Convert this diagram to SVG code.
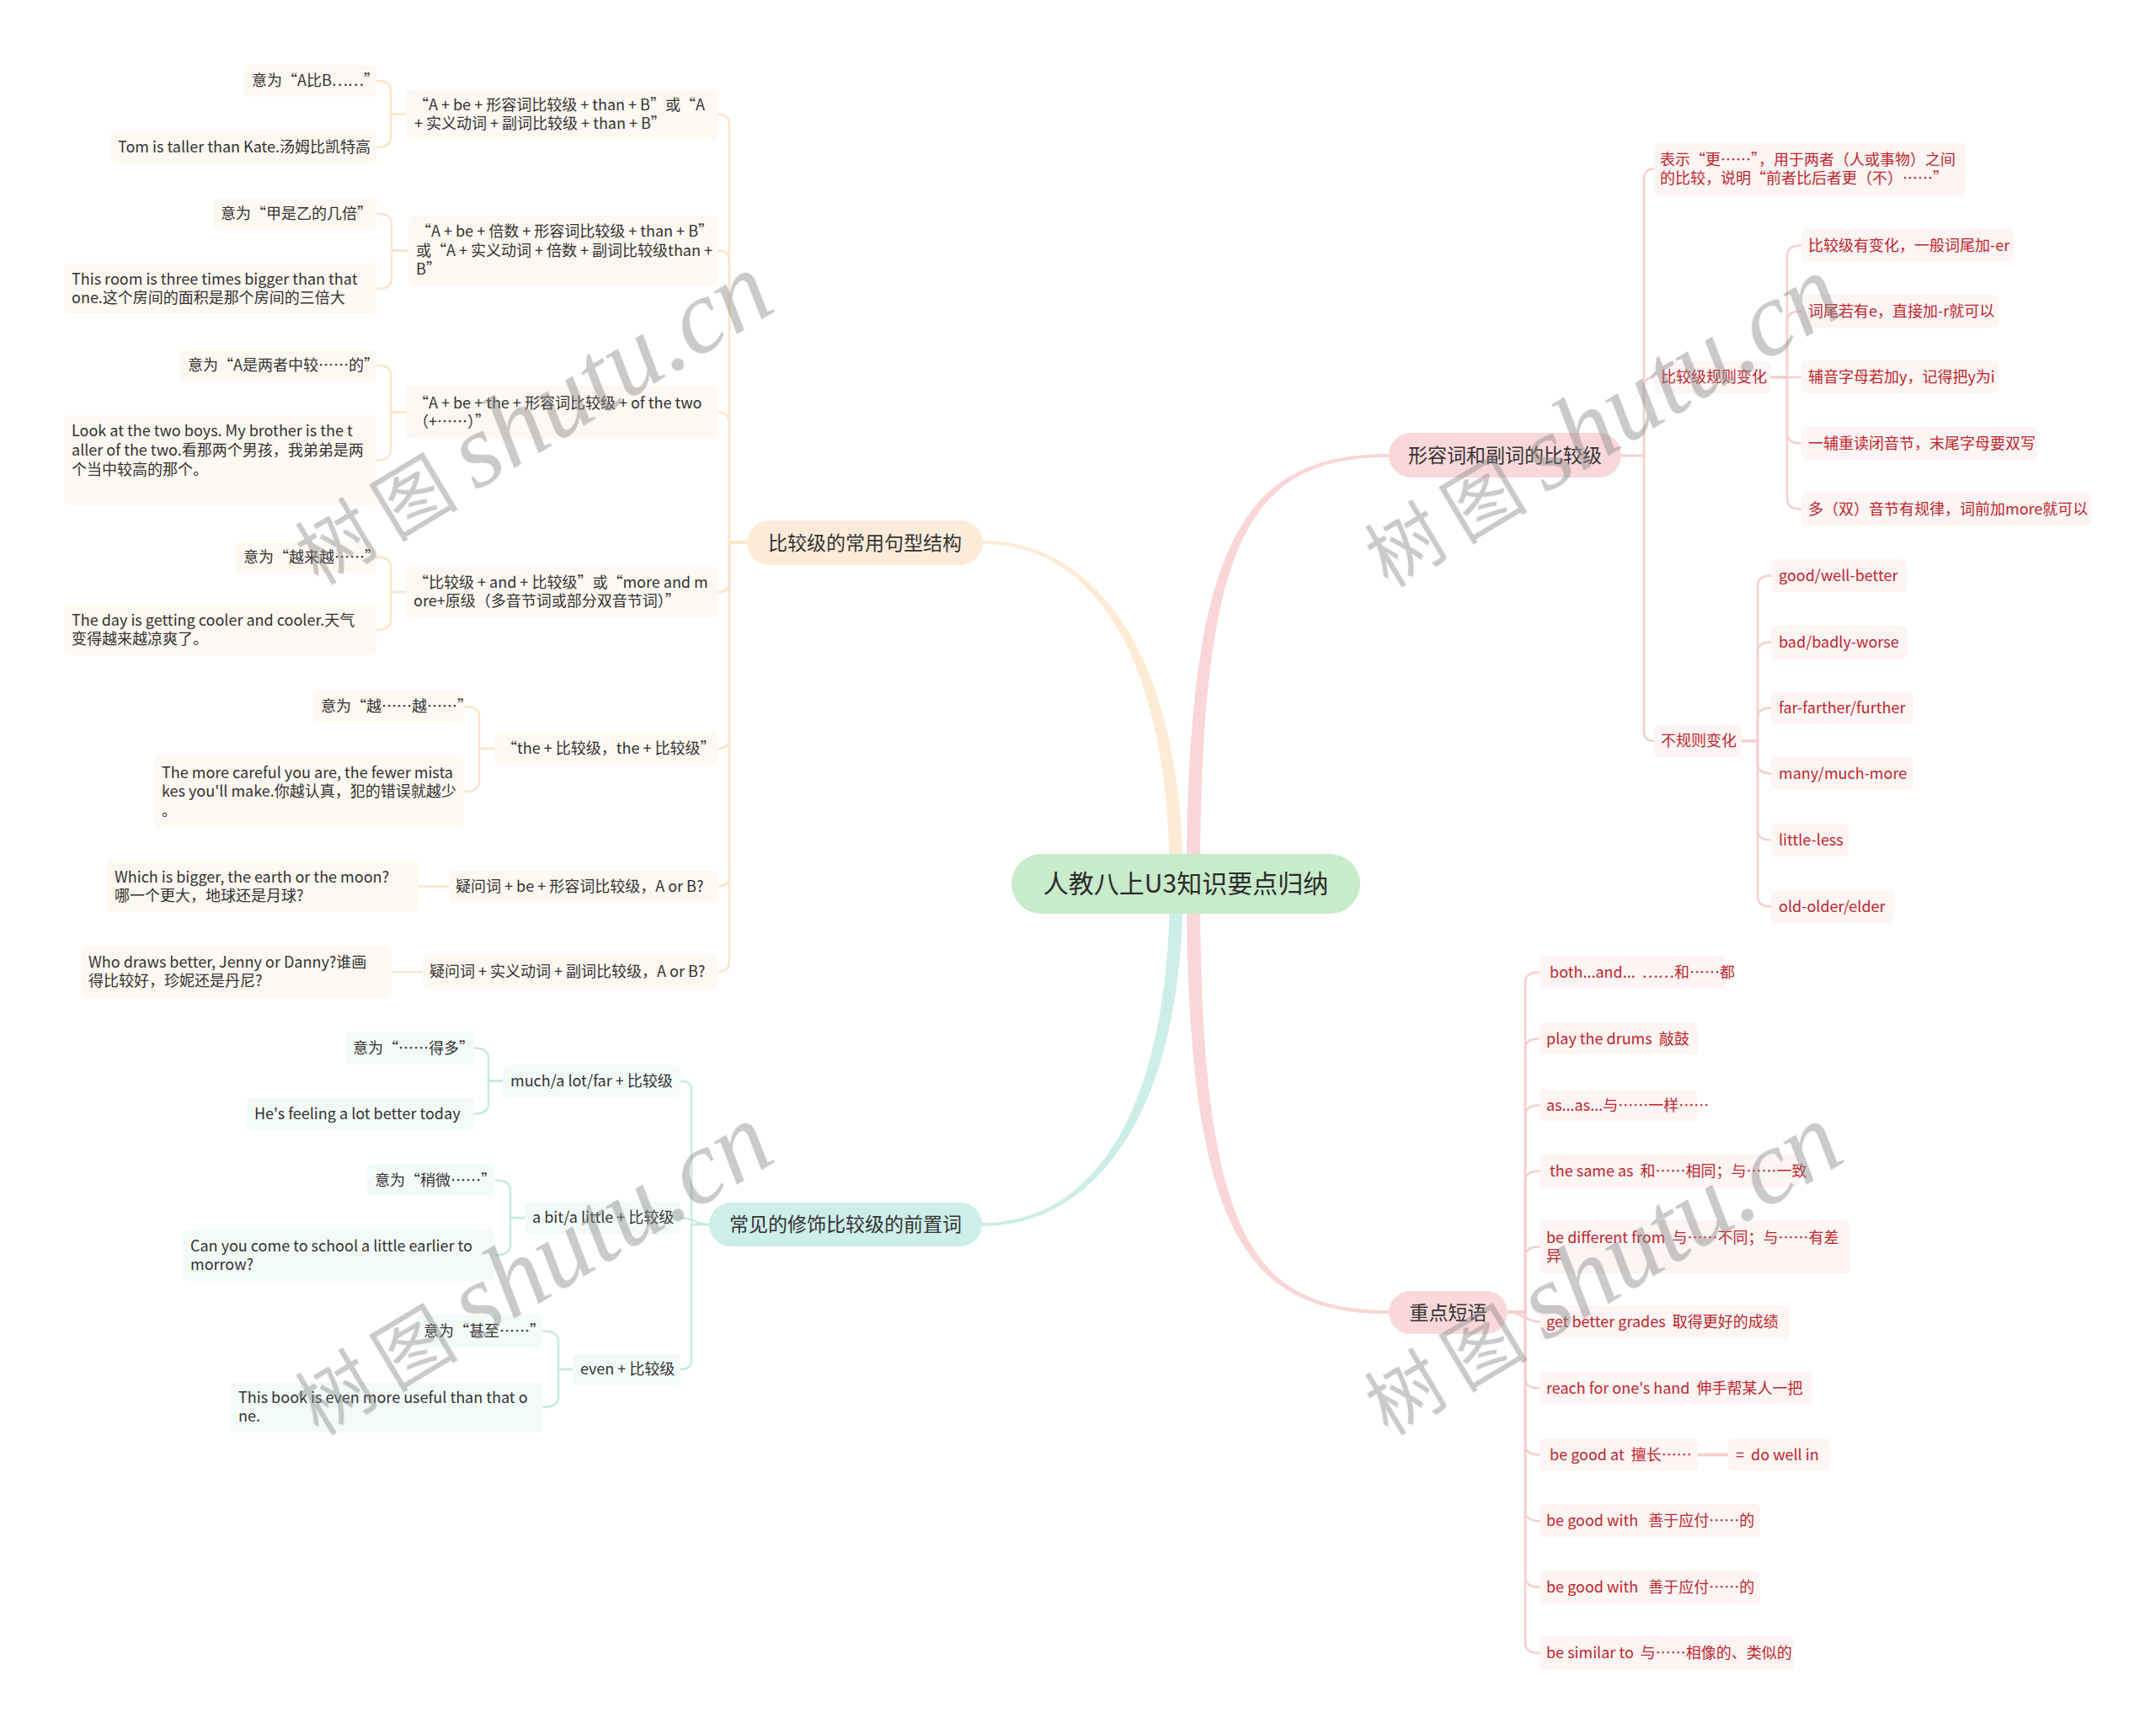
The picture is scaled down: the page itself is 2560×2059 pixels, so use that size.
<svg xmlns="http://www.w3.org/2000/svg" width="2560" height="2059" viewBox="0 0 2560 2059">
<style>
.t{font-family:"Noto Sans CJK SC","Liberation Sans",sans-serif;font-size:18px;fill:#333}
.red{fill:#c1272d}
.h{font-size:23px;text-anchor:middle}
.rt{font-size:30px;text-anchor:middle;fill:#2b2b2b}
.n1{fill:#fdf8f1}
.n2{fill:#f3fbf9}
.n3{fill:#fdf4f4}
.c1{fill:none;stroke:#fce4cc;stroke-width:2.5}
.c2{fill:none;stroke:#c6eae3;stroke-width:2.5}
.c3{fill:none;stroke:#f6cfcf;stroke-width:2.5}
.wm1{font-family:"Noto Sans CJK SC",sans-serif;font-size:90px;letter-spacing:16px}
.wm2{font-family:"Liberation Serif",serif;font-style:italic;font-size:125px}
</style>
<rect x="0" y="0" width="2560" height="2059" fill="#ffffff"/>
<g id="connectors">
<path d="M1167,642 C1302,642 1405,780 1405,1050 L1389,1050 C1389,780 1298,646 1167,646 Z" fill="#fdebd6"/>
<path d="M1166,1456 C1302,1456 1405,1320 1405,1050 L1389,1050 C1389,1320 1298,1452 1166,1452 Z" fill="#cdeee8"/>
<path d="M1649,539 C1478,539 1409,640 1409,1050 L1425,1050 C1425,640 1482,543 1649,543 Z" fill="#f9d6d7"/>
<path d="M1649,1556 C1482,1556 1425,1460 1425,1050 L1409,1050 C1409,1460 1478,1560 1649,1560 Z" fill="#f9d6d7"/>
<g class="c1">
<path d="M887,644H866V148Q866,135.5 852,135.5"/>
<path d="M887,644H866V310Q866,297.5 852,297.5"/>
<path d="M887,644H866V502Q866,489.5 852,489.5"/>
<path d="M887,644H866V691Q866,703 852,703"/>
<path d="M887,644H866V877Q866,889 852,889"/>
<path d="M887,644H866V1040.5Q866,1052.5 852,1052.5"/>
<path d="M887,644H866V1142Q866,1154 852,1154"/>
<path d="M482,135.5H464V108Q464,96 447,96"/>
<path d="M482,135.5H464V163Q464,175 447,175"/>
<path d="M485,297.5H465V265.5Q465,253.5 447,253.5"/>
<path d="M485,297.5H465V331Q465,343 447,343"/>
<path d="M482,489.5H464V445.5Q464,433.5 447,433.5"/>
<path d="M482,489.5H464V534.5Q464,546.5 447,546.5"/>
<path d="M482,703H464V673.5Q464,661.5 447,661.5"/>
<path d="M482,703H464V736Q464,748 447,748"/>
<path d="M587,889H569V851Q569,839 551,839"/>
<path d="M587,889H569V928Q569,940 551,940"/>
<path d="M533,1052.5H497"/>
<path d="M502,1154H465"/>
</g>
<g class="c2">
<path d="M842,1454H821V1295.5Q821,1283.5 808,1283.5"/>
<path d="M842,1454C824,1454 826,1446 808,1446"/>
<path d="M842,1454H821V1614Q821,1626 808,1626"/>
<path d="M597,1283.5H580V1256.5Q580,1244.5 563,1244.5"/>
<path d="M597,1283.5H580V1310.5Q580,1322.5 563,1322.5"/>
<path d="M623,1446H606V1413.5Q606,1401.5 588,1401.5"/>
<path d="M623,1446H606V1478.5Q606,1490.5 588,1490.5"/>
<path d="M680,1626H663V1592.5Q663,1580.5 644,1580.5"/>
<path d="M680,1626H663V1659Q663,1671 644,1671"/>
</g>
<g class="c3">
<path d="M1925,541H1952V212.5Q1952,200.5 1964,200.5"/>
<path d="M1925,541H1952V460Q1952,448 1964,448"/>
<path d="M1925,541H1952V868Q1952,880 1964,880"/>
<path d="M2102,448H2122V303.5Q2122,291.5 2139,291.5"/>
<path d="M2102,448H2122V381.5Q2122,369.5 2139,369.5"/>
<path d="M2102,448H2139"/>
<path d="M2102,448H2122V514.5Q2122,526.5 2139,526.5"/>
<path d="M2102,448H2122V592.5Q2122,604.5 2139,604.5"/>
<path d="M2068,880H2087V695.5Q2087,683.5 2103,683.5"/>
<path d="M2068,880H2087V774.5Q2087,762.5 2103,762.5"/>
<path d="M2068,880H2087V852.5Q2087,840.5 2103,840.5"/>
<path d="M2068,880H2087V906.5Q2087,918.5 2103,918.5"/>
<path d="M2068,880H2087V985.5Q2087,997.5 2103,997.5"/>
<path d="M2068,880H2087V1064.5Q2087,1076.5 2103,1076.5"/>
<path d="M1790,1558H1811V1166.5Q1811,1154.5 1828,1154.5"/>
<path d="M1790,1558H1811V1245.5Q1811,1233.5 1828,1233.5"/>
<path d="M1790,1558H1811V1324.5Q1811,1312.5 1828,1312.5"/>
<path d="M1790,1558H1811V1402.5Q1811,1390.5 1828,1390.5"/>
<path d="M1790,1558H1811V1492.5Q1811,1480.5 1828,1480.5"/>
<path d="M1790,1558C1808,1558 1811,1569.5 1828,1569.5"/>
<path d="M1790,1558H1811V1636.5Q1811,1648.5 1828,1648.5"/>
<path d="M1790,1558H1811V1715.5Q1811,1727.5 1828,1727.5"/>
<path d="M1790,1558H1811V1794Q1811,1806 1828,1806"/>
<path d="M1790,1558H1811V1872.5Q1811,1884.5 1828,1884.5"/>
<path d="M1790,1558H1811V1951Q1811,1963 1828,1963"/>
<path d="M2016,1727.5H2052" stroke-width="4"/>
</g>
</g>
<g id="root"><rect x="1201" y="1014" width="414" height="71" rx="35.5" fill="#c8ebca"/><text class="t rt" x="1408" y="1060">人教八上U3知识要点归纳</text></g>
<g id="b1"><rect x="887" y="618" width="280" height="53" rx="26.5" fill="#fdebd9"/><text class="t h" x="1027" y="652.5">比较级的常用句型结构</text></g>
<g id="b2"><rect x="842" y="1428" width="324" height="52" rx="26" fill="#cdeee9"/><text class="t h" x="1004" y="1462">常见的修饰比较级的前置词</text></g>
<g id="b3"><rect x="1649" y="514" width="276" height="53" rx="26.5" fill="#fad8d9"/><text class="t h" x="1787" y="548.5">形容词和副词的比较级</text></g>
<g id="b4"><rect x="1649" y="1533" width="141" height="51" rx="25.5" fill="#fad8d9"/><text class="t h" x="1719.5" y="1566.5">重点短语</text></g>

<g id="a1"><rect class="n1" x="482" y="106" width="370" height="59" rx="6"/><text class="t"><tspan x="491" y="130.5">“A + be + 形容词比较级 + than + B”或“A</tspan><tspan x="492" y="152.5">+ 实义动词 + 副词比较级 + than + B”</tspan></text></g>
<g id="a2"><rect class="n1" x="485" y="256" width="367" height="83" rx="6"/><text class="t"><tspan x="494" y="281">“A + be + 倍数 + 形容词比较级 + than + B”</tspan><tspan x="494" y="303.5">或“A + 实义动词 + 倍数 + 副词比较级than +</tspan><tspan x="494" y="326">B”</tspan></text></g>
<g id="a3"><rect class="n1" x="482" y="458" width="370" height="63" rx="6"/><text class="t"><tspan x="491" y="484.5">“A + be + the + 形容词比较级 + of the two</tspan><tspan x="491" y="506.5">（+……）”</tspan></text></g>
<g id="a4"><rect class="n1" x="482" y="673" width="370" height="60" rx="6"/><text class="t"><tspan x="491" y="698">“比较级 + and + 比较级”或“more and m</tspan><tspan x="491" y="720">ore+原级（多音节词或部分双音节词）”</tspan></text></g>
<g id="a5"><rect class="n1" x="587" y="870" width="265" height="38" rx="6"/><text class="t" x="596" y="895">“the + 比较级，the + 比较级”</text></g>
<g id="a6"><rect class="n1" x="533" y="1033" width="319" height="39" rx="6"/><text class="t" x="541" y="1058.5">疑问词 + be + 形容词比较级，A or B?</text></g>
<g id="a7"><rect class="n1" x="502" y="1135" width="350" height="38" rx="6"/><text class="t" x="510" y="1160">疑问词 + 实义动词 + 副词比较级，A or B?</text></g>

<g id="a1a"><rect class="n1" x="290" y="77" width="157" height="38" rx="6"/><text class="t" x="299" y="102">意为“A比B……”</text></g>
<g id="a1b"><rect class="n1" x="131" y="156" width="316" height="38" rx="6"/><text class="t" x="140" y="181">Tom is taller than Kate.汤姆比凯特高</text></g>
<g id="a2a"><rect class="n1" x="253" y="235" width="194" height="37" rx="6"/><text class="t" x="262" y="259.5">意为“甲是乙的几倍”</text></g>
<g id="a2b"><rect class="n1" x="76" y="313" width="371" height="60" rx="6"/><text class="t"><tspan x="85" y="338">This room is three times bigger than that</tspan><tspan x="85" y="360">one.这个房间的面积是那个房间的三倍大</tspan></text></g>
<g id="a3a"><rect class="n1" x="214" y="415" width="233" height="37" rx="6"/><text class="t" x="223" y="439.5">意为“A是两者中较……的”</text></g>
<g id="a3b"><rect class="n1" x="76" y="493" width="371" height="107" rx="6"/><text class="t"><tspan x="85" y="518">Look at the two boys. My brother is the t</tspan><tspan x="85" y="541">aller of the two.看那两个男孩，我弟弟是两</tspan><tspan x="85" y="564">个当中较高的那个。</tspan></text></g>
<g id="a4a"><rect class="n1" x="280" y="643" width="167" height="37" rx="6"/><text class="t" x="289" y="667.5">意为“越来越……”</text></g>
<g id="a4b"><rect class="n1" x="76" y="718" width="371" height="60" rx="6"/><text class="t"><tspan x="85" y="743">The day is getting cooler and cooler.天气</tspan><tspan x="85" y="765">变得越来越凉爽了。</tspan></text></g>
<g id="a5a"><rect class="n1" x="372" y="820" width="179" height="38" rx="6"/><text class="t" x="381" y="845">意为“越……越……”</text></g>
<g id="a5b"><rect class="n1" x="183" y="898" width="368" height="84" rx="6"/><text class="t"><tspan x="192" y="923.5">The more careful you are, the fewer mista</tspan><tspan x="192" y="946">kes you'll make.你越认真，犯的错误就越少</tspan><tspan x="192" y="968.5">。</tspan></text></g>
<g id="a6a"><rect class="n1" x="127" y="1022" width="370" height="61" rx="6"/><text class="t"><tspan x="136" y="1047.5">Which is bigger, the earth or the moon?</tspan><tspan x="136" y="1069.5">哪一个更大，地球还是月球?</tspan></text></g>
<g id="a7a"><rect class="n1" x="96" y="1123" width="369" height="62" rx="6"/><text class="t"><tspan x="105" y="1149">Who draws better, Jenny or Danny?谁画</tspan><tspan x="105" y="1171">得比较好，珍妮还是丹尼?</tspan></text></g>

<g id="bb1"><rect class="n2" x="597" y="1264" width="211" height="39" rx="6"/><text class="t" x="606" y="1289.5">much/a lot/far + 比较级</text></g>
<g id="bb2"><rect class="n2" x="623" y="1426" width="185" height="40" rx="6"/><text class="t" x="632" y="1452">a bit/a little + 比较级</text></g>
<g id="bb3"><rect class="n2" x="680" y="1607" width="128" height="38" rx="6"/><text class="t" x="689" y="1632">even + 比较级</text></g>
<g id="bb1a"><rect class="n2" x="410" y="1225" width="153" height="39" rx="6"/><text class="t" x="419" y="1250.5">意为“……得多”</text></g>
<g id="bb1b"><rect class="n2" x="293" y="1303" width="270" height="39" rx="6"/><text class="t" x="302" y="1328.5">He's feeling a lot better today</text></g>
<g id="bb2a"><rect class="n2" x="436" y="1382" width="152" height="39" rx="6"/><text class="t" x="445" y="1407.5">意为“稍微……”</text></g>
<g id="bb2b"><rect class="n2" x="217" y="1460" width="371" height="61" rx="6"/><text class="t"><tspan x="226" y="1485.5">Can you come to school a little earlier to</tspan><tspan x="226" y="1507.5">morrow?</tspan></text></g>
<g id="bb3a"><rect class="n2" x="494" y="1561" width="150" height="39" rx="6"/><text class="t" x="503" y="1586.5">意为“甚至……”</text></g>
<g id="bb3b"><rect class="n2" x="274" y="1641" width="370" height="60" rx="6"/><text class="t"><tspan x="283" y="1666">This book is even more useful than that o</tspan><tspan x="283" y="1688">ne.</tspan></text></g>

<g id="c1"><rect class="n3" x="1964" y="169" width="370" height="63" rx="6"/><text class="t red"><tspan x="1971" y="195.5">表示“更……”，用于两者（人或事物）之间</tspan><tspan x="1971" y="217.5">的比较，说明“前者比后者更（不）……”</tspan></text></g>
<g id="c2"><rect class="n3" x="1964" y="429" width="138" height="38" rx="6"/><text class="t red" x="1972" y="454">比较级规则变化</text></g>
<g id="c3"><rect class="n3" x="1964" y="861" width="104" height="38" rx="6"/><text class="t red" x="1972" y="886">不规则变化</text></g>
<g id="c2a"><rect class="n3" x="2139" y="272" width="252" height="39" rx="6"/><text class="t red" x="2147" y="297.5">比较级有变化，一般词尾加-er</text></g>
<g id="c2b"><rect class="n3" x="2139" y="350" width="234" height="39" rx="6"/><text class="t red" x="2147" y="375.5">词尾若有e，直接加-r就可以</text></g>
<g id="c2c"><rect class="n3" x="2139" y="428" width="234" height="39" rx="6"/><text class="t red" x="2147" y="453.5">辅音字母若加y，记得把y为i</text></g>
<g id="c2d"><rect class="n3" x="2139" y="507" width="280" height="39" rx="6"/><text class="t red" x="2147" y="532.5">一辅重读闭音节，末尾字母要双写</text></g>
<g id="c2e"><rect class="n3" x="2139" y="585" width="344" height="39" rx="6"/><text class="t red" x="2147" y="610.5">多（双）音节有规律，词前加more就可以</text></g>
<g id="c3a"><rect class="n3" x="2103" y="664" width="161" height="39" rx="6"/><text class="t red" x="2112" y="689.5">good/well-better</text></g>
<g id="c3b"><rect class="n3" x="2103" y="743" width="161" height="39" rx="6"/><text class="t red" x="2112" y="768.5">bad/badly-worse</text></g>
<g id="c3c"><rect class="n3" x="2103" y="821" width="169" height="39" rx="6"/><text class="t red" x="2112" y="846.5">far-farther/further</text></g>
<g id="c3d"><rect class="n3" x="2103" y="899" width="169" height="39" rx="6"/><text class="t red" x="2112" y="924.5">many/much-more</text></g>
<g id="c3e"><rect class="n3" x="2103" y="978" width="92" height="39" rx="6"/><text class="t red" x="2112" y="1003.5">little-less</text></g>
<g id="c3f"><rect class="n3" x="2103" y="1057" width="146" height="39" rx="6"/><text class="t red" x="2112" y="1082.5">old-older/elder</text></g>

<g id="d1"><rect class="n3" x="1828" y="1135" width="222" height="39" rx="6"/><text class="t red" xml:space="preserve" x="1836" y="1160.5"> both...and...  ……和……都</text></g>
<g id="d2"><rect class="n3" x="1828" y="1214" width="188" height="39" rx="6"/><text class="t red" xml:space="preserve" x="1836" y="1239.5">play the drums  敲鼓</text></g>
<g id="d3"><rect class="n3" x="1828" y="1293" width="187" height="39" rx="6"/><text class="t red" x="1836" y="1318.5">as...as...与……一样……</text></g>
<g id="d4"><rect class="n3" x="1828" y="1371" width="308" height="39" rx="6"/><text class="t red" xml:space="preserve" x="1836" y="1396.5"> the same as  和……相同；与……一致</text></g>
<g id="d5"><rect class="n3" x="1828" y="1449" width="369" height="63" rx="6"/><text class="t red" xml:space="preserve"><tspan x="1836" y="1475.5">be different from  与……不同；与……有差</tspan><tspan x="1836" y="1497.5">异</tspan></text></g>
<g id="d6"><rect class="n3" x="1828" y="1550" width="297" height="39" rx="6"/><text class="t red" xml:space="preserve" x="1836" y="1575.5">get better grades  取得更好的成绩</text></g>
<g id="d7"><rect class="n3" x="1828" y="1629" width="323" height="39" rx="6"/><text class="t red" xml:space="preserve" x="1836" y="1654.5">reach for one's hand  伸手帮某人一把</text></g>
<g id="d8"><rect class="n3" x="1828" y="1708" width="188" height="39" rx="6"/><text class="t red" xml:space="preserve" x="1836" y="1733.5"> be good at  擅长……</text></g>
<g id="d8a"><rect class="n3" x="2052" y="1708" width="121" height="39" rx="6"/><text class="t red" xml:space="preserve" x="2061" y="1733.5">=  do well in</text></g>
<g id="d9"><rect class="n3" x="1828" y="1786" width="262" height="40" rx="6"/><text class="t red" xml:space="preserve" x="1836" y="1812">be good with   善于应付……的</text></g>
<g id="d10"><rect class="n3" x="1828" y="1865" width="262" height="39" rx="6"/><text class="t red" xml:space="preserve" x="1836" y="1890.5">be good with   善于应付……的</text></g>
<g id="d11"><rect class="n3" x="1828" y="1943" width="302" height="40" rx="6"/><text class="t red" xml:space="preserve" x="1836" y="1969">be similar to  与……相像的、类似的</text></g>

<g id="watermark" fill="#888888" opacity="0.45">
<text transform="translate(400,645) rotate(-31)"><tspan class="wm1" x="-45" y="32">树图</tspan><tspan class="wm2" x="173" y="32">shutu.cn</tspan></text>
<text transform="translate(1670,648) rotate(-31)"><tspan class="wm1" x="-45" y="32">树图</tspan><tspan class="wm2" x="173" y="32">shutu.cn</tspan></text>
<text transform="translate(400,1655) rotate(-31)"><tspan class="wm1" x="-45" y="32">树图</tspan><tspan class="wm2" x="173" y="32">shutu.cn</tspan></text>
<text transform="translate(1670,1655) rotate(-31)"><tspan class="wm1" x="-45" y="32">树图</tspan><tspan class="wm2" x="173" y="32">shutu.cn</tspan></text>
</g>
</svg>
